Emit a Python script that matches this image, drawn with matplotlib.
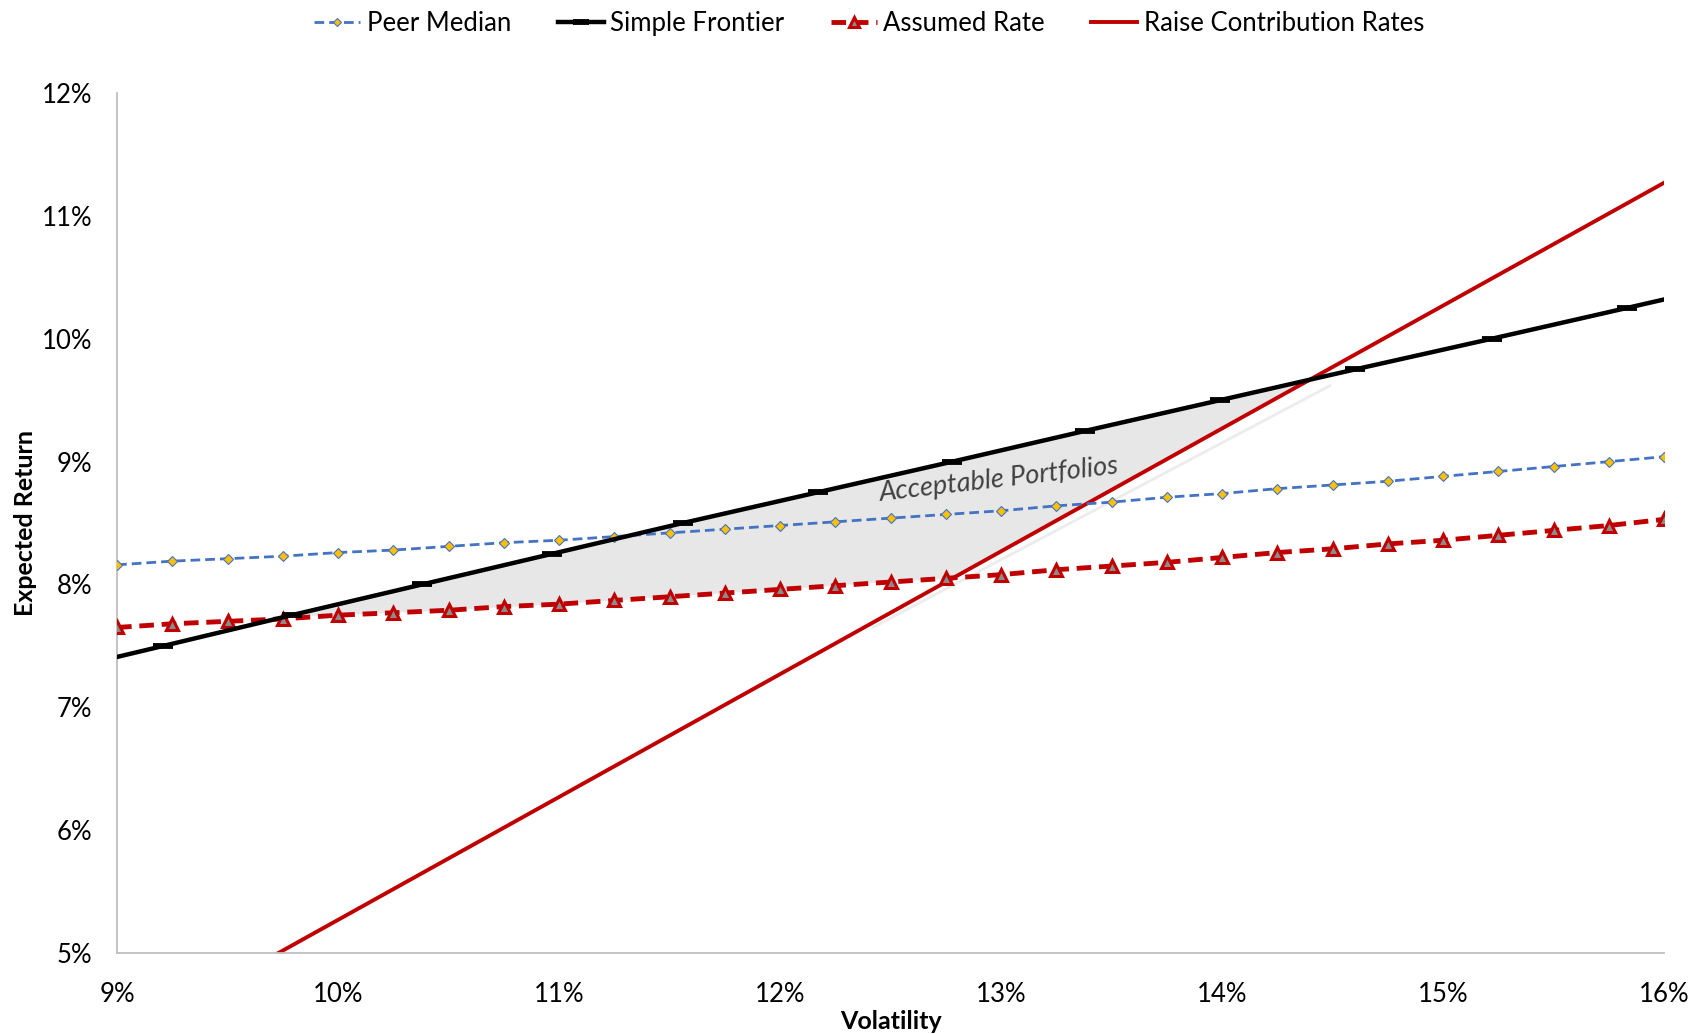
import matplotlib
matplotlib.use("Agg")
import matplotlib.pyplot as plt
from matplotlib.ticker import FuncFormatter
import numpy as np

plt.rcParams["font.family"] = ["Lato", "DejaVu Sans"]

# Volatility grid (%) shared by the peer median and assumed rate series
vol_grid = [9.0, 9.25, 9.5, 9.75, 10.0, 10.25, 10.5, 10.75, 11.0, 11.25, 11.5, 11.75,
            12.0, 12.25, 12.5, 12.75, 13.0, 13.25, 13.5, 13.75, 14.0, 14.25, 14.5,
            14.75, 15.0, 15.25, 15.5, 15.75, 16.0]

peer_median = [8.16, 8.19, 8.21, 8.23, 8.26, 8.28, 8.31, 8.34, 8.36, 8.39, 8.42, 8.45,
               8.48, 8.51, 8.54, 8.57, 8.60, 8.64, 8.67, 8.71, 8.74, 8.78, 8.81,
               8.84, 8.88, 8.92, 8.96, 9.00, 9.04]

assumed_rate = [7.65, 7.68, 7.70, 7.72, 7.75, 7.77, 7.79, 7.82, 7.84, 7.87, 7.90, 7.93,
                7.96, 7.99, 8.02, 8.05, 8.08, 8.12, 8.15, 8.18, 8.22, 8.26, 8.29,
                8.33, 8.36, 8.40, 8.44, 8.48, 8.53]

# Simple efficient frontier (end points carry no marker)
frontier_vol = [9.0, 9.21, 9.79, 10.38, 10.97, 11.56, 12.17, 12.78, 13.38, 13.99, 14.60, 15.22, 15.83, 16.0]
frontier_ret = [7.41, 7.50, 7.75, 8.00, 8.25, 8.50, 8.75, 9.00, 9.25, 9.50, 9.75, 10.00, 10.25, 10.32]

# Return needed to avoid raising contribution rates
raise_vol = [9.73, 16.0]
raise_ret = [5.0, 11.27]

# Acceptable portfolio region: frontier on top, contribution line on the right,
# assumed rate at the bottom
region_vol = [9.79, 10.38, 10.97, 11.56, 12.17, 12.78, 13.38, 13.99, 14.42, 12.78, 12.5, 12.0, 11.5, 11.0, 10.5, 10.0, 9.79]
region_ret = [7.75, 8.00, 8.25, 8.50, 8.75, 9.00, 9.25, 9.50, 9.68, 8.05, 8.02, 7.96, 7.90, 7.84, 7.79, 7.75, 7.74]

x_ticks = [9, 10, 11, 12, 13, 14, 15, 16]
y_ticks = [5, 6, 7, 8, 9, 10, 11, 12]

fig = plt.figure(figsize=(17.01, 10.34), dpi=100)
ax = fig.add_axes([0.0688, 0.0783, 0.9095, 0.8317])

ax.fill(region_vol, region_ret, color="#e7e7e7", lw=0, zorder=1)
# faint shadow edge along the right side of the region
ax.plot([12.42, 14.49], [7.65, 9.62], color="#ececec", lw=2, zorder=1,
        solid_capstyle="round")

ax.plot(raise_vol, raise_ret, color="#c00000", lw=2.8, zorder=2,
        label="Raise Contribution Rates")

ax.plot(vol_grid, assumed_rate, color="#c00000", lw=3.5, ls=(0, (3.0, 1.6)),
        marker="^", ms=9, mfc="#8c8c8c", mec="#c00000", mew=2.2, zorder=3,
        label="Assumed Rate")

ax.plot(vol_grid, peer_median, color="#4472c4", lw=2.0, ls=(0, (3.5, 1.8)),
        marker="D", ms=5.5, mfc="#ffc000", mec="#4472c4", mew=0.8, zorder=4,
        label="Peer Median")

ax.plot(frontier_vol, frontier_ret, color="black", lw=3.2, zorder=5,
        marker="_", ms=14, mew=4.2, markevery=list(range(1, len(frontier_vol) - 1)),
        label="Simple Frontier")

ax.text(12.99, 8.85, "Acceptable Portfolios", fontsize=19.5, style="italic",
        color="#404040", rotation=6.6, ha="center", va="center", zorder=6)

ax.set_xlim(9, 16)
ax.set_ylim(5, 12)
ax.set_xticks(x_ticks)
ax.set_yticks(y_ticks)
ax.xaxis.set_major_formatter(FuncFormatter(lambda v, p: f"{v:.0f}%"))
ax.yaxis.set_major_formatter(FuncFormatter(lambda v, p: f"{v:.0f}%"))
ax.tick_params(axis="both", length=0, labelsize=18.5, colors="black")
ax.tick_params(axis="x", pad=21)
ax.tick_params(axis="y", pad=18)

for side in ("top", "right"):
    ax.spines[side].set_visible(False)
for side in ("left", "bottom"):
    ax.spines[side].set_color("#bfbfbf")
    ax.spines[side].set_linewidth(1.3)

ax.set_xlabel("Volatility", fontsize=18, fontweight="bold", labelpad=2)
ax.set_ylabel("Expected Return", fontsize=18, fontweight="bold", labelpad=3)

handles, labels = ax.get_legend_handles_labels()
order = ["Peer Median", "Simple Frontier", "Assumed Rate", "Raise Contribution Rates"]
hmap = dict(zip(labels, handles))
fig.legend([hmap[k] for k in order], order, loc="upper center",
           bbox_to_anchor=(0.511, 1.012), ncol=4, frameon=False, fontsize=18.5,
           handlelength=1.8, columnspacing=1.8, handletextpad=0.25, markerscale=0.8)

fig.savefig("out.png", dpi=100)
